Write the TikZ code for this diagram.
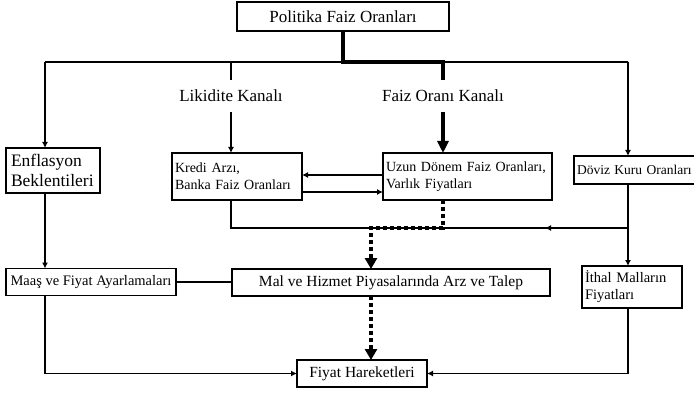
\documentclass[tikz,border=0pt]{standalone}
\usepackage{fontspec}
\setmainfont{Liberation Serif}
\usetikzlibrary{arrows.meta}

\tikzstyle{kutu} = [draw, line width=1.4pt, rectangle, inner sep=0pt, outer sep=0pt]
\tikzstyle{solkutu} = [kutu, align=left, inner xsep=3pt]
\tikzstyle{kanal} = [inner sep=0pt, minimum height=32pt, font=\fontsize{17}{20}\selectfont]
\tikzstyle{ince} = [line width=1.3pt]
\tikzstyle{ok} = [ince, -{Latex[length=6pt,width=6pt]}]
\tikzstyle{kalin} = [line width=4pt]
\tikzstyle{noktali} = [line width=4pt, dash pattern=on 4pt off 3pt, -{Triangle[length=11pt,width=12pt]}]

\begin{document}
\begin{tikzpicture}[x=1pt, y=-1pt]
	\useasboundingbox (0,0) rectangle (694,393);

	\node[kutu, minimum width=212pt, minimum height=29pt, font=\fontsize{17}{20}\selectfont] (politika) at (343,16.5) {Politika Faiz Oranları};
	\node[kanal] (likidite) at (231,96) {Likidite Kanalı};
	\node[kanal] (faizkanal) at (443,96) {Faiz Oranı Kanalı};

	\node[solkutu, inner xsep=5pt, text width=84pt, minimum height=45pt, font=\fontsize{17.5}{20}\selectfont] (enflasyon) at (53,170.5) {Enflasyon\\Beklentileri};
	\node[solkutu, text width=124pt, minimum height=47pt, font=\fontsize{14}{17}\selectfont] (kredi) at (237,176.5) {Kredi Arzı,\\Banka Faiz Oranları};
	\node[solkutu, text width=163pt, minimum height=47pt, font=\fontsize{14}{17}\selectfont] (uzun) at (467.5,176.5) {Uzun Dönem Faiz Oranları,\\Varlık Fiyatları};
	\node[solkutu, text width=124pt, minimum height=28pt, font=\fontsize{13.5}{17}\selectfont] (doviz) at (639,170) {Döviz Kuru Oranları};

	\node[kutu, minimum width=170pt, minimum height=27pt, font=\fontsize{14.5}{17}\selectfont] (maas) at (91,282) {Maaş ve Fiyat Ayarlamaları};
	\node[kutu, minimum width=318pt, minimum height=27pt, font=\fontsize{15.5}{18}\selectfont] (mal) at (391,282.5) {Mal ve Hizmet Piyasalarında Arz ve Talep};
	\node[solkutu, text width=94pt, minimum height=42pt, font=\fontsize{14.5}{17}\selectfont] (ithal) at (632,287) {İthal Malların\\Fiyatları};
	\node[kutu, minimum width=130pt, minimum height=27pt, font=\fontsize{15.5}{18}\selectfont] (fiyat) at (362,373.5) {Fiyat Hareketleri};

	\coordinate (sol) at (45,62);
	\coordinate (sag) at (628,62);
	\coordinate (kavsak) at (628,228);
	\coordinate (okucu) at (545,228);
	\coordinate (dugum) at (371,228);

	\draw[ince] (sol) -- (sag);
	\draw[ok] (sol) -- (sol |- enflasyon.north);
	\draw[ok] (sag) -- (sag |- doviz.north);
	\draw[ince] (sol -| likidite) -- (likidite);
	\draw[ok] (likidite) -- (likidite |- kredi.north);
	\draw[kalin] (politika) |- (sol -| faizkanal) -- (faizkanal);
	\draw[kalin, -{Triangle[length=12pt,width=11pt]}] (faizkanal) -- (faizkanal |- uzun.north);

	\draw[ok] ([yshift=1.5pt]uzun.west) -- ([yshift=1.5pt]kredi.east);
	\draw[ok] ([yshift=-15.5pt]kredi.east) -- ([yshift=-15.5pt]uzun.west);

	\draw[ince] (kredi.south -| likidite) |- (kavsak);
	\draw[ok] (kavsak) -- (okucu);
	\draw[ok] (doviz.south -| sag) -- (sag |- ithal.north);
	\draw[noktali] (uzun.south -| faizkanal) |- (dugum) -- (dugum |- mal.north);
	\draw[noktali] (mal.south -| dugum) -- (fiyat.north -| dugum);

	\draw[ok] (sol |- enflasyon.south) -- (sol |- maas.north);
	\draw[ince] (maas.east) -- (maas.east -| mal.west);
	\draw[ok] (sol |- maas.south) |- (fiyat);
	\draw[ok] (sag |- ithal.south) |- (fiyat);
\end{tikzpicture}
\end{document}
